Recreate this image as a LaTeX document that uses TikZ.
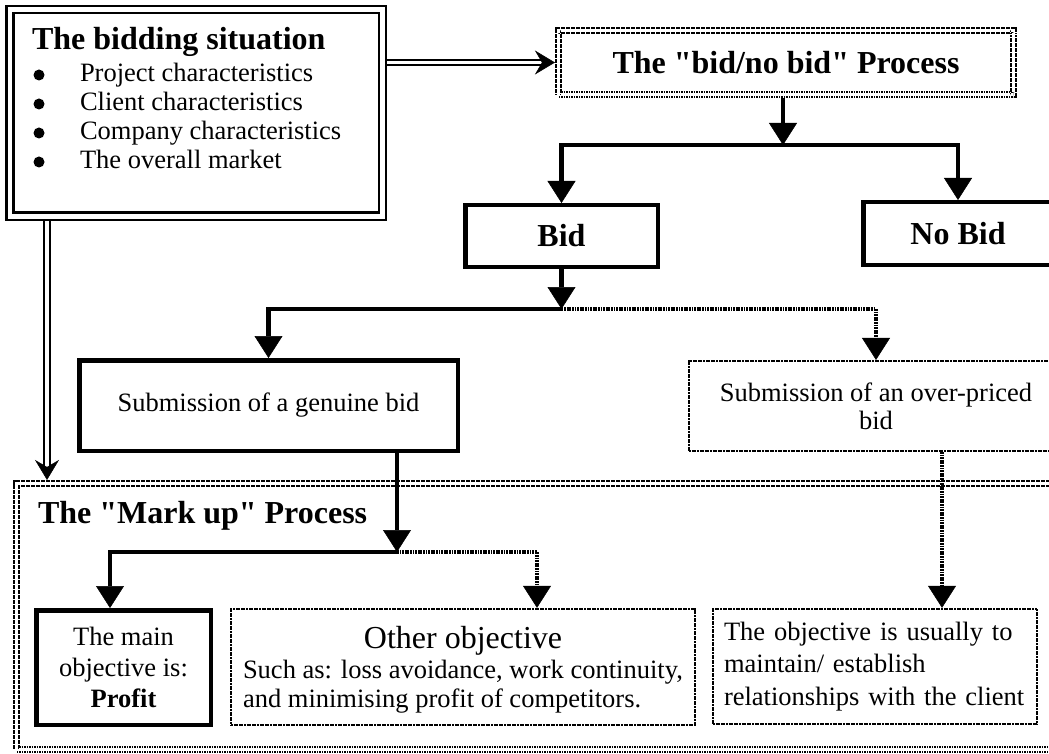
\documentclass[tikz,border=0pt]{standalone}
\usepackage{fontspec}
\setmainfont{Liberation Serif}[Ligatures=TeXOff]
\usetikzlibrary{arrows.meta,calc}
\newcommand{\regtext}{\fontsize{26.5}{31}\selectfont}
\newcommand{\headtext}{\fontsize{32}{36}\selectfont\bfseries}
\newcommand{\bigtext}{\fontsize{32}{36}\selectfont}
\begin{document}
\begin{tikzpicture}[x=1pt,y=-1pt,
  every node/.style={inner sep=0pt, outer sep=0pt},
  heavybox/.style={draw, line width=4.5pt, outer sep=2.25pt, align=center, font=\regtext},
  thinbox/.style={draw, line width=2.3pt, dash pattern=on 2pt off 0.6pt, outer sep=1.15pt, align=center, font=\regtext},
  dbldot/.style={draw, double, line width=2.4pt, double distance=2.3pt, dash pattern=on 1.8pt off 0.7pt, outer sep=3.55pt},
  dblsolid/.style={draw, double, line width=2.5pt, double distance=4.5pt, outer sep=4.75pt},
  txt/.style={anchor=base west, font=\regtext},
  head/.style={anchor=base west, font=\headtext},
  tip/.style={-{Triangle[length=22pt,width=28pt,line width=0.5pt]}},
  flow/.style={line width=4.5pt, tip},
  dotflow/.style={line width=3.2pt, dash pattern=on 1.8pt off 0.8pt, tip},
  dblflow/.style={double, line width=2pt, double distance=3.5pt,
    -{Stealth[length=20pt,width=24pt,inset=7pt,line width=0.5pt]}},
  dot/.style={fill=black}]

\useasboundingbox (0,0) rectangle (1049,754);
\fill[white] (0,0) rectangle (1049,754);
\clip (0,0) rectangle (1049,754);

% ---- mark-up process frame (drawn first, as background) ----
\node[dbldot, minimum width=1065pt, minimum height=266pt] (markup) at (549,616.5) {};
\node[head] (markuptitle) at (38,523) {The "Mark up" Process};

% ---- the bidding situation ----
\node[dblsolid, minimum width=372.5pt, minimum height=206.5pt] (bidsit) at (196,113) {};
\node[head] (bidsittitle) at (32,50) {The bidding situation};
\node[txt] (item1) at (80,82) {Project characteristics};
\node[txt] (item2) at (80,111) {Client characteristics};
\node[txt] (item3) at (80,140) {Company characteristics};
\node[txt] (item4) at (80,169) {The overall market};
\fill[dot] (39,75) circle (5.5pt);
\fill[dot] (39,104) circle (5.5pt);
\fill[dot] (39,133) circle (5.5pt);
\fill[dot] (39,162) circle (5.5pt);

% ---- bid / no bid decision ----
\node[dbldot, minimum width=455pt, minimum height=64pt, font=\headtext] (bnb) at (786,62.5) {The "bid/no bid" Process};
\node[heavybox, font=\headtext, minimum width=192.5pt, minimum height=61.5pt] (bid) at (561.5,236) {Bid};
\node[heavybox, font=\headtext, minimum width=189.5pt, minimum height=62.5pt] (nobid) at (958,233.5) {No Bid};

% ---- submissions ----
\node[heavybox, minimum width=378.5pt, minimum height=90.5pt] (genuine) at (268.5,405.5) {Submission of a genuine bid};
\node[thinbox, font=\fontsize{26.5}{28}\selectfont, minimum width=373.8pt, minimum height=89.8pt] (over) at (876,406) {Submission of an over-priced\\bid};

% ---- objectives ----
\node[heavybox, font=\fontsize{26.5}{31}\selectfont, minimum width=174.5pt, minimum height=114.5pt] (profit) at (123.5,667.5) {The main\\objective is:\\\textbf{Profit}};
\node[thinbox, minimum width=464pt, minimum height=116pt] (other) at (463,667) {};
\node[anchor=base, font=\bigtext] (othertitle) at (463,648) {Other objective};
\node[txt] (other1) at (243,678) {Such as: loss avoidance, work continuity,};
\node[txt] (other2) at (243,707) {and minimising profit of competitors.};
\node[thinbox, font=\fontsize{26.5}{32.5}\selectfont, align=left, text width=302pt, minimum width=324pt, minimum height=115pt] (rel) at (875,666.5) {The objective is usually to\\maintain/ establish\\relationships with the client};

% ---- junctions and drop points ----
\coordinate (j1) at (783,145);
\coordinate (j2) at (561.5,309);
\coordinate (j3) at (397,552);
\coordinate (pa) at (110,0);
\coordinate (oa) at (537,0);
\coordinate (oc) at (942,0);
\coordinate (dc) at (47,0);

% ---- connectors ----
\draw[dblflow] (bidsit.east |- bnb.west) -- (bnb.west);
\draw[dblflow] (bidsit.south -| dc) -- (markup.north -| dc);

\draw[flow] (bnb.south -| j1) -- (j1);
\draw[flow] (j1) -| (bid.north);
\draw[flow] (j1) -| (nobid.north);

\draw[flow] (bid.south) -- (j2);
\draw[flow] (j2) -| (genuine.north);
\draw[dotflow] (j2) -| (over.north);

\draw[flow] (genuine.south -| j3) -- (j3);
\draw[flow] (j3) -| (profit.north -| pa);
\draw[dotflow] (j3) -| (other.north -| oa);

\draw[dotflow] (over.south -| oc) -- (rel.north -| oc);

\end{tikzpicture}
\end{document}
